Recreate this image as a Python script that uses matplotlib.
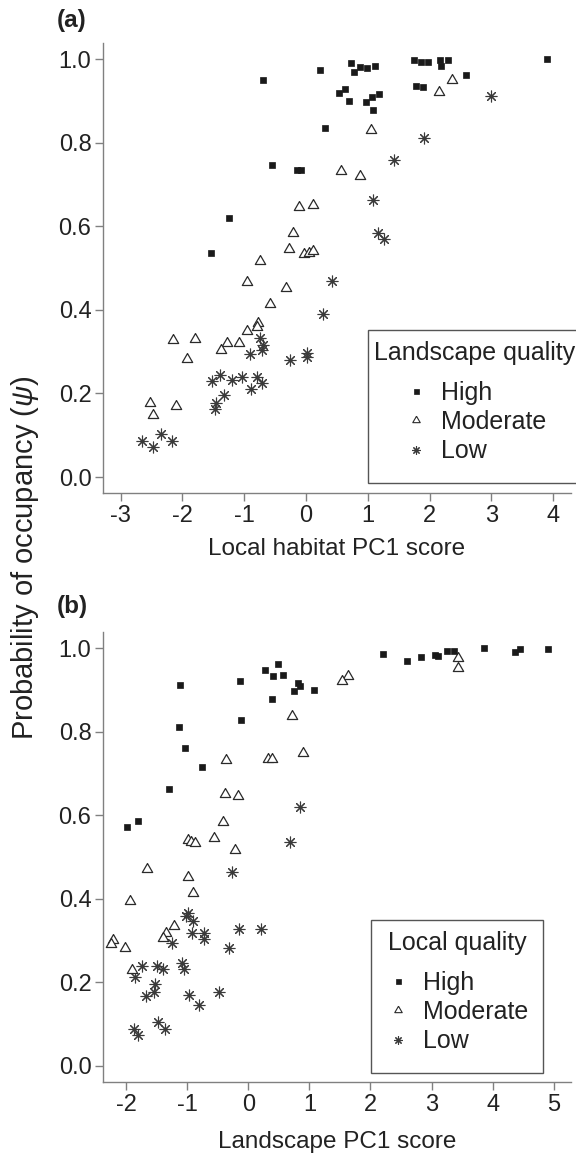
import matplotlib
matplotlib.use("Agg")
import matplotlib.pyplot as plt
from matplotlib.lines import Line2D
from matplotlib.offsetbox import VPacker, HPacker, DrawingArea

plt.rcParams['font.family'] = ['Liberation Sans', 'DejaVu Sans']
plt.rcParams['mathtext.fontset'] = 'custom'
plt.rcParams['mathtext.rm'] = 'Liberation Sans'
plt.rcParams['mathtext.it'] = 'Liberation Sans:italic'

# ---------------- Panel (a): Local habitat PC1 score ----------------
a_high_x = [0.22, -0.69, 0.31, -0.55, -0.14, -0.08, -1.25, -1.53,
            0.73, 0.87, 0.77, 0.99, 1.11, 1.75, 1.86, 1.97, 2.17, 2.18, 2.29, 3.90,
            2.59, 0.53, 0.63, 0.69, 0.97, 1.06, 1.18, 1.09, 1.78, 1.89]
a_high_y = [0.975, 0.950, 0.835, 0.746, 0.734, 0.734, 0.620, 0.537,
            0.992, 0.981, 0.969, 0.978, 0.984, 0.998, 0.994, 0.994, 0.998, 0.985, 0.999, 1.000,
            0.963, 0.919, 0.930, 0.901, 0.898, 0.910, 0.917, 0.879, 0.935, 0.934]
a_mod_x = [-0.12, 0.11, -0.21, -0.27, -0.04, 0.05, 0.12, -0.74, 2.36, 2.16, 1.05, 0.57, 0.87,
           -0.96, -0.33, -0.59, -0.78, -0.80, -0.95, -2.15, -1.79, -1.28, -1.09, -1.38, -1.92,
           -2.52, -2.11, -2.48]
a_mod_y = [0.647, 0.651, 0.585, 0.546, 0.533, 0.537, 0.541, 0.517, 0.951, 0.921, 0.830, 0.732, 0.720,
           0.466, 0.453, 0.414, 0.369, 0.358, 0.349, 0.329, 0.331, 0.321, 0.321, 0.304, 0.282,
           0.177, 0.171, 0.148]
a_low_x = [3.00, 1.91, 1.43, 1.08, 1.16, 1.26, 0.42, 0.28, -0.74, -0.70, -0.72, -0.91, -0.26,
           0.02, 0.02, -1.52, -1.39, -1.19, -1.04, -0.80, -0.71, -0.89, -1.32, -1.46, -1.47,
           -2.65, -2.47, -2.35, -2.17]
a_low_y = [0.912, 0.811, 0.760, 0.663, 0.585, 0.570, 0.469, 0.391, 0.332, 0.315, 0.305, 0.295, 0.279,
           0.297, 0.288, 0.229, 0.245, 0.232, 0.239, 0.239, 0.226, 0.211, 0.197, 0.176, 0.164,
           0.087, 0.072, 0.102, 0.087]

# ---------------- Panel (b): Landscape PC1 score ----------------
b_high_x = [0.49, 0.28, 0.41, 0.57, 0.82, 0.85, 0.75, 1.08, 0.38, -0.14, -1.12, -0.12, -1.14,
            -1.04, -0.76, -1.30, -1.80, -1.98, 2.20, 2.59, 2.82, 3.06, 3.10, 3.25, 3.36, 3.86,
            4.36, 4.45, 4.91]
b_high_y = [0.964, 0.949, 0.935, 0.937, 0.917, 0.911, 0.899, 0.901, 0.880, 0.921, 0.913, 0.828, 0.812,
            0.761, 0.717, 0.664, 0.587, 0.572, 0.987, 0.969, 0.979, 0.984, 0.981, 0.994, 0.994, 1.000,
            0.992, 0.999, 0.999]
b_mod_x = [1.63, 1.53, 3.44, 3.44, 0.71, 0.90, -0.37, 0.32, 0.39, -0.38, -0.17, -0.41, -0.56,
           -0.98, -0.93, -0.87, -0.22, -1.65, -0.98, -0.91, -1.93, -1.21, -1.34, -1.39, -2.21,
           -2.24, -2.01, -1.91]
b_mod_y = [0.933, 0.922, 0.978, 0.953, 0.838, 0.750, 0.732, 0.735, 0.735, 0.651, 0.647, 0.584, 0.546,
           0.541, 0.537, 0.533, 0.517, 0.471, 0.453, 0.414, 0.394, 0.335, 0.317, 0.306, 0.301,
           0.291, 0.281, 0.229]
b_low_x = [0.85, 0.69, -0.27, -0.98, -1.02, -0.91, -0.92, -0.73, -0.73, -0.16, 0.21, -0.31, -1.25,
           -1.08, -1.06, -1.74, -1.49, -1.39, -1.86, -1.53, -1.54, -1.67, -0.97, -0.81, -0.48,
           -1.48, -1.36, -1.87, -1.81]
b_low_y = [0.621, 0.537, 0.464, 0.367, 0.359, 0.347, 0.319, 0.319, 0.303, 0.328, 0.328, 0.281, 0.295,
           0.247, 0.232, 0.240, 0.239, 0.232, 0.212, 0.195, 0.177, 0.166, 0.170, 0.146, 0.177,
           0.104, 0.089, 0.089, 0.073]

group_labels = ["High", "Moderate", "Low"]
y_ticks = [0.0, 0.2, 0.4, 0.6, 0.8, 1.0]
a_xticks = [-3, -2, -1, 0, 1, 2, 3, 4]
b_xticks = [-2, -1, 0, 1, 2, 3, 4, 5]

W, H = 576, 1155
fig = plt.figure(figsize=(W / 100, H / 100), dpi=100)

def fx(px):
    return px / W

def fy(py):
    return 1 - py / H

ax_a = fig.add_axes([fx(103.3), fy(493.3), fx(570.7) - fx(103.3), fy(42.6) - fy(493.3)])
ax_b = fig.add_axes([fx(103.3), fy(1082.0), fx(570.7) - fx(103.3), fy(631.8) - fy(1082.0)])

tri = [(0, 0.577), (-0.5, -0.289), (0.5, -0.289), (0, 0.577)]
TXT = '#222222'
SPINE = '#808080'

sq_kw = dict(marker='s', ls='none', ms=5.0, mfc='#1a1a1a', mec='#1a1a1a', mew=0.5)
tr_kw = dict(marker=tri, ls='none', ms=8.6, mfc='white', mec='#2a2a2a', mew=0.9)
st_kw = dict(marker=(8, 2, 0), ls='none', ms=8.4, mec='#3a3a3a', mew=0.8)

def style_axes(ax, xlim, xticks, xlabel, labelpad):
    ax.set_xlim(*xlim)
    ax.set_ylim(-0.039, 1.04)
    ax.set_xticks(xticks)
    ax.set_xticklabels([str(t) for t in xticks])
    ax.set_yticks(y_ticks)
    ax.set_yticklabels([f"{t:.1f}" for t in y_ticks])
    for s in ('top', 'right'):
        ax.spines[s].set_visible(False)
    for s in ('left', 'bottom'):
        ax.spines[s].set_color(SPINE)
        ax.spines[s].set_linewidth(1.0)
    ax.tick_params(axis='both', direction='out', length=5.5, width=1.0, color=SPINE,
                   labelsize=17, labelcolor=TXT, pad=3)
    ax.set_xlabel(xlabel, fontsize=17.5, color=TXT, labelpad=labelpad)

# Panel (a)
ax_a.plot(a_low_x, a_low_y, **st_kw)
ax_a.plot(a_mod_x, a_mod_y, **tr_kw)
ax_a.plot(a_high_x, a_high_y, **sq_kw)
style_axes(ax_a, (-3.28, 4.283), a_xticks, "Local habitat PC1 score", 8)

# Panel (b)
ax_b.plot(b_low_x, b_low_y, **st_kw)
ax_b.plot(b_mod_x, b_mod_y, **tr_kw)
ax_b.plot(b_high_x, b_high_y, **sq_kw)
style_axes(ax_b, (-2.373, 5.277), b_xticks, "Landscape PC1 score", 11)

def make_handles():
    return [Line2D([], [], marker='s', ls='none', ms=3.6, mfc='#1a1a1a', mec='#1a1a1a', mew=0.5),
            Line2D([], [], marker=tri, ls='none', ms=6.2, mfc='white', mec='#2a2a2a', mew=0.8),
            Line2D([], [], marker=(8, 2, 0), ls='none', ms=6.0, mec='#3a3a3a', mew=0.8)]

def add_legend(ax, title, px, py, hpad_px):
    leg = ax.legend(make_handles(), group_labels, title=title, loc='upper left',
                    bbox_to_anchor=(fx(px), fy(py)), bbox_transform=fig.transFigure,
                    fontsize=18, title_fontsize=18, frameon=True, fancybox=False,
                    framealpha=1, edgecolor='#555555', borderpad=0.0, labelspacing=0.21,
                    handlelength=1.0, handletextpad=0.5, borderaxespad=0)
    leg.get_frame().set_linewidth(1.0)
    leg.get_title().set_color(TXT)
    for t in leg.get_texts():
        t.set_color(TXT)
    inner = leg._legend_box
    inner.sep = 11.4
    k = 72 / 100
    col = VPacker(pad=0, sep=0, align='center',
                  children=[DrawingArea(0, 11 * k), inner, DrawingArea(0, 20 * k)])
    outer = HPacker(pad=0, sep=0, align='center',
                    children=[DrawingArea(hpad_px * k, 0), col, DrawingArea(hpad_px * k, 0)])
    outer.set_figure(fig)
    outer.axes = ax
    leg._legend_box = outer
    outer.set_offset(leg._findoffset)
    return leg

add_legend(ax_a, "Landscape quality", 368.3, 330, 5.7)
add_legend(ax_b, "Local quality", 370.7, 920, 15.0)

fig.text(fx(57), fy(20), "(a)", fontsize=17.5, fontweight='bold', color=TXT,
         ha='left', va='center')
fig.text(fx(57), fy(606), "(b)", fontsize=17.5, fontweight='bold', color=TXT,
         ha='left', va='center')
fig.text(fx(25), fy(557.5), "Probability of occupancy ($\\mathit{ψ}$)", fontsize=21,
         color=TXT, rotation=90, ha='center', va='center')

fig.savefig("out.png", dpi=100)
